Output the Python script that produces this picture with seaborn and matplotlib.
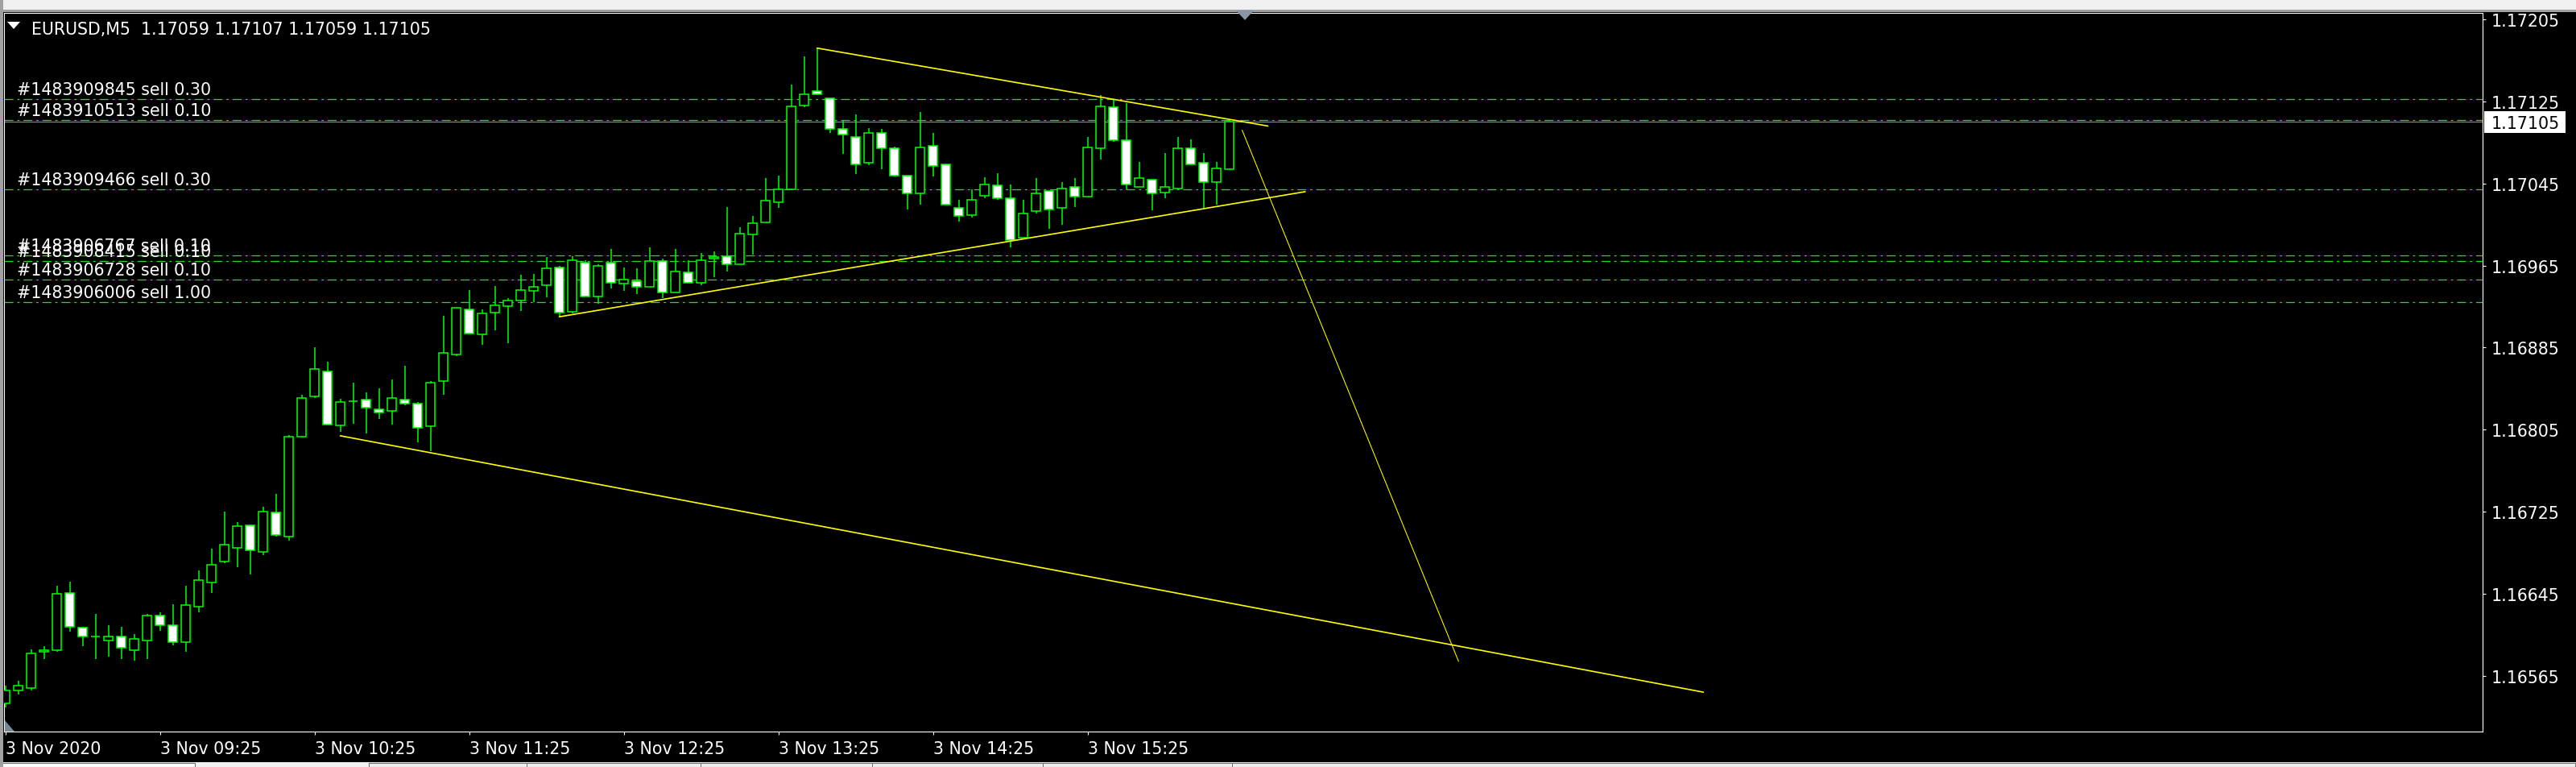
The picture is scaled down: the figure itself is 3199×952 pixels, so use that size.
import numpy as np
import pandas as pd
import matplotlib
matplotlib.use("Agg")
import matplotlib.pyplot as plt
import matplotlib.transforms as mtransforms
from matplotlib.patches import Rectangle, Polygon
import seaborn as sns

# ============================================
# DATA
# ============================================

SYMBOL = "EURUSD,M5"

bar_open = [
    1.16538, 1.16551, 1.16553, 1.16588, 1.16590, 1.16646, 1.16612, 1.16603, 1.16599, 1.16603,
    1.16590, 1.16599, 1.16624, 1.16614, 1.16598, 1.16632, 1.16656, 1.16676, 1.16690, 1.16712,
    1.16686, 1.16724, 1.16701, 1.16798, 1.16837, 1.16862, 1.16809, 1.16833, 1.16834, 1.16825,
    1.16823, 1.16834, 1.16830, 1.16808, 1.16852, 1.16878, 1.16922, 1.16898, 1.16919, 1.16925,
    1.16931, 1.16940, 1.16946, 1.16963, 1.16920, 1.16968, 1.16935, 1.16968, 1.16947, 1.16950,
    1.16944, 1.16969, 1.16939, 1.16958, 1.16948, 1.16972, 1.16974, 1.16966, 1.16995, 1.17007,
    1.17027, 1.17039, 1.17121, 1.17135, 1.17128, 1.17098, 1.17090, 1.17065, 1.17094, 1.17079,
    1.17053, 1.17035, 1.17082, 1.17064, 1.17021, 1.17014, 1.17033, 1.17043, 1.17031, 1.16992,
    1.17018, 1.17038, 1.17021, 1.17042, 1.17032, 1.17079, 1.17119, 1.17087, 1.17042, 1.17049,
    1.17036, 1.17040, 1.17079, 1.17065, 1.17046, 1.17059,
]
bar_high = [
    1.16555, 1.16560, 1.16591, 1.16594, 1.16653, 1.16657, 1.16613, 1.16625, 1.16614, 1.16613,
    1.16606, 1.16625, 1.16627, 1.16635, 1.16653, 1.16668, 1.16689, 1.16725, 1.16715, 1.16712,
    1.16730, 1.16742, 1.16800, 1.16839, 1.16885, 1.16871, 1.16835, 1.16851, 1.16841, 1.16845,
    1.16854, 1.16867, 1.16832, 1.16852, 1.16916, 1.16924, 1.16941, 1.16922, 1.16945, 1.16933,
    1.16956, 1.16957, 1.16973, 1.16965, 1.16974, 1.16970, 1.16966, 1.16981, 1.16963, 1.16962,
    1.16983, 1.16972, 1.16981, 1.16970, 1.16977, 1.16979, 1.17022, 1.17002, 1.17013, 1.17050,
    1.17053, 1.17141, 1.17169, 1.17177, 1.17128, 1.17107, 1.17112, 1.17099, 1.17098, 1.17081,
    1.17053, 1.17115, 1.17094, 1.17064, 1.17029, 1.17039, 1.17051, 1.17055, 1.17044, 1.17029,
    1.17050, 1.17038, 1.17046, 1.17050, 1.17090, 1.17131, 1.17127, 1.17123, 1.17066, 1.17049,
    1.17075, 1.17090, 1.17088, 1.17075, 1.17066, 1.17107,
]
bar_low = [
    1.16534, 1.16547, 1.16551, 1.16581, 1.16588, 1.16608, 1.16594, 1.16581, 1.16584, 1.16581,
    1.16580, 1.16581, 1.16609, 1.16595, 1.16588, 1.16627, 1.16646, 1.16675, 1.16671, 1.16664,
    1.16683, 1.16701, 1.16697, 1.16798, 1.16836, 1.16810, 1.16803, 1.16811, 1.16801, 1.16815,
    1.16810, 1.16829, 1.16793, 1.16784, 1.16839, 1.16877, 1.16899, 1.16888, 1.16902, 1.16889,
    1.16921, 1.16929, 1.16934, 1.16915, 1.16918, 1.16935, 1.16928, 1.16943, 1.16940, 1.16937,
    1.16944, 1.16933, 1.16939, 1.16948, 1.16946, 1.16954, 1.16959, 1.16966, 1.16976, 1.17007,
    1.17021, 1.17039, 1.17119, 1.17131, 1.17094, 1.17074, 1.17054, 1.17063, 1.17059, 1.17052,
    1.17020, 1.17024, 1.17052, 1.17024, 1.17008, 1.17012, 1.17031, 1.17029, 1.16983, 1.16992,
    1.17016, 1.17001, 1.17005, 1.17022, 1.17032, 1.17068, 1.17086, 1.17039, 1.17042, 1.17019,
    1.17031, 1.17039, 1.17064, 1.17021, 1.17024, 1.17059,
]
bar_close = [
    1.16551, 1.16555, 1.16587, 1.16590, 1.16645, 1.16613, 1.16603, 1.16603, 1.16603, 1.16592,
    1.16601, 1.16624, 1.16614, 1.16598, 1.16634, 1.16658, 1.16673, 1.16693, 1.16711, 1.16687,
    1.16725, 1.16702, 1.16798, 1.16836, 1.16864, 1.16810, 1.16832, 1.16833, 1.16826, 1.16822,
    1.16836, 1.16830, 1.16807, 1.16851, 1.16880, 1.16924, 1.16899, 1.16918, 1.16926, 1.16931,
    1.16941, 1.16944, 1.16962, 1.16919, 1.16970, 1.16935, 1.16965, 1.16948, 1.16951, 1.16944,
    1.16969, 1.16939, 1.16959, 1.16948, 1.16970, 1.16973, 1.16966, 1.16996, 1.17006, 1.17028,
    1.17039, 1.17120, 1.17132, 1.17132, 1.17098, 1.17093, 1.17064, 1.17094, 1.17079, 1.17053,
    1.17035, 1.17080, 1.17062, 1.17024, 1.17013, 1.17029, 1.17044, 1.17031, 1.16990, 1.17016,
    1.17035, 1.17020, 1.17040, 1.17032, 1.17080, 1.17120, 1.17087, 1.17044, 1.17050, 1.17035,
    1.17042, 1.17079, 1.17064, 1.17046, 1.17060, 1.17105,
]

time_labels = ["3 Nov 2020", "3 Nov 09:25", "3 Nov 10:25", "3 Nov 11:25",
               "3 Nov 12:25", "3 Nov 13:25", "3 Nov 14:25", "3 Nov 15:25"]
time_label_bars = [0, 12, 24, 36, 48, 60, 72, 84]

price_ticks = [1.16565, 1.16645, 1.16725, 1.16805, 1.16885,
               1.16965, 1.17045, 1.17125, 1.17205]

order_ids = ["1483909845", "1483910513", "1483909466", "1483906767",
             "1483908415", "1483906728", "1483906006"]
order_lots = [0.30, 0.10, 0.30, 0.10, 0.10, 0.10, 1.00]
order_prices = [1.17127, 1.17107, 1.17039, 1.16975, 1.16969, 1.16951, 1.16929]

bid_price = 1.17105

# trendlines: start / end as (bar index, price)
trend_x0 = [63.0, 43.0, 26.0, 96.0]
trend_p0 = [1.17177, 1.16915, 1.16799, 1.17097]
trend_x1 = [98.0, 100.9, 131.8, 112.8]
trend_p1 = [1.17101, 1.17037, 1.16549, 1.16579]
trend_lw = [1.2, 1.2, 1.2, 0.75]

# ============================================
# STYLE
# ============================================

LIME = "#00ff00"
ORDER_GREEN = "#22dd22"
YELLOW = "#ffff00"
SLATE = "#778899"
FS = 14.8

sns.set_theme(style="dark", rc={
    "axes.facecolor": "black",
    "figure.facecolor": "black",
    "axes.edgecolor": "white",
    "axes.linewidth": 0.8,
    "text.color": "white",
    "xtick.color": "white",
    "ytick.color": "white",
    "lines.scale_dashes": False,
})
plt.rcParams["font.family"] = ["DejaVu Sans"]

W, H = 3199, 953
fig = plt.figure(figsize=(W / 100, H / 100), dpi=100)
fig.patch.set_facecolor("black")

# plot frame in pixels: x 5..3083, y 17..909
ax = fig.add_axes([5 / W, (H - 909) / H, 3078 / W, 892 / H])
ax.set_facecolor("black")
ax.set_xlim(-0.094, 192.28)
ax.set_ylim(1.165106, 1.172113)

df = pd.DataFrame({"open": bar_open, "high": bar_high,
                   "low": bar_low, "close": bar_close})
df["bar"] = np.arange(len(df))
bull = df["close"] >= df["open"]

# ============================================
# ORDER LINES + LABELS
# ============================================

for oid, lot, price in zip(order_ids, order_lots, order_prices):
    ax.axhline(price, color=ORDER_GREEN, lw=0.9,
               dashes=(8.0, 3.5, 2.0, 3.5), zorder=2)
    ax.annotate(f"#{oid} sell {lot:.2f}", xy=(0, price),
                xycoords=("axes fraction", "data"),
                xytext=(11.8, 4.3), textcoords="offset points",
                va="baseline", ha="left", fontsize=FS, color="white", zorder=6)

ax.axhline(bid_price, color=SLATE, lw=0.9, zorder=2)

# ============================================
# CANDLES
# ============================================

ax.vlines(df["bar"], df["low"], df["high"], color=LIME, lw=1.1, zorder=3)
body_lo = np.minimum(df["open"], df["close"])
body_h = (df["close"] - df["open"]).abs()
ax.bar(df["bar"], body_h, bottom=body_lo, width=0.64,
       color=np.where(bull, "black", "white"),
       edgecolor=LIME, linewidth=1.1, zorder=4)

# ============================================
# TRENDLINES
# ============================================

for x0, p0, x1, p1, lw in zip(trend_x0, trend_p0, trend_x1, trend_p1, trend_lw):
    sns.lineplot(x=[x0, x1], y=[p0, p1], ax=ax, color=YELLOW, lw=lw,
                 estimator=None, sort=False, zorder=5)

# ============================================
# AXES
# ============================================

ax.set_xticks(time_label_bars)
ax.set_xticklabels(time_labels, ha="left")
ax.set_yticks(price_ticks)
ax.set_yticklabels([f"{p:.5f}" for p in price_ticks])
ax.tick_params(axis="x", bottom=True, length=2.9, width=0.8, pad=5.2,
               labelsize=FS, colors="white")
ax.tick_params(axis="y", left=False, labelleft=False, right=True,
               labelright=True, length=2.9, width=0.8, pad=5.0,
               labelsize=FS, colors="white")
ax.set_xlabel("")
ax.set_ylabel("")
for sp in ax.spines.values():
    sp.set_color("white")
    sp.set_linewidth(0.8)

# current bid box on the price scale
blend = mtransforms.blended_transform_factory(ax.transAxes, ax.transData)
box_h = 27.3 / 127300
ax.add_patch(Rectangle((1 + 2 / 3078, bid_price - box_h / 2), 101 / 3078, box_h,
                       transform=blend, facecolor="white", edgecolor="none",
                       clip_on=False, zorder=7))
ax.text(1 + 11 / 3078, bid_price, f"{bid_price:.5f}", transform=blend,
        color="black", fontsize=FS, va="center_baseline", ha="left",
        clip_on=False, zorder=8)

# shift marker, bottom left corner
ax.add_patch(Polygon([(0.0003, 0), (0.0003, 14 / 892), (13 / 3078, 0)],
                     closed=True, transform=ax.transAxes, facecolor=SLATE,
                     edgecolor="none", zorder=6))

# header
last = df.iloc[-1]
fig.text(39 / W, 1 - 42.7 / H,
         f"{SYMBOL}  {last['open']:.5f} {last['high']:.5f} "
         f"{last['low']:.5f} {last['close']:.5f}",
         color="white", fontsize=FS, va="baseline", ha="left")
fig.patches.append(Polygon([(9 / W, 1 - 28 / H), (25 / W, 1 - 28 / H), (17 / W, 1 - 37 / H)],
                           closed=True, transform=fig.transFigure,
                           facecolor="white", edgecolor="none"))

# window chrome: toolbar strip on top, tab strip at the bottom, left frame
fig.patches.append(Rectangle((0, 1 - 13 / H), 1, 13 / H, transform=fig.transFigure,
                             facecolor="#f0f0f0", edgecolor="none"))
fig.patches.append(Rectangle((0, 1 - 16 / H), 1, 3 / H, transform=fig.transFigure,
                             facecolor="#a0a0a0", edgecolor="none"))
# chart shift marker in the top strip
fig.patches.append(Polygon([(1535 / W, 1 - 14 / H), (1557 / W, 1 - 14 / H),
                            (1546 / W, 1 - 26 / H)],
                           closed=True, transform=fig.transFigure,
                           facecolor="#8a95a5", edgecolor="none"))
fig.patches.append(Rectangle((0, 0), 1, 6 / H, transform=fig.transFigure,
                             facecolor="#f0f0f0", edgecolor="none"))
# tab outlines in the bottom strip
fig.patches.append(Rectangle((1 / W, 0), 241 / W, 5.5 / H, transform=fig.transFigure,
                             facecolor="white", edgecolor="#707070", linewidth=0.8))
fig.patches.append(Rectangle((458 / W, 0), 2740 / W, 5.5 / H, transform=fig.transFigure,
                             facecolor="none", edgecolor="#707070", linewidth=0.8))
for tab_x in [654, 870, 1083, 1295, 1530]:
    fig.patches.append(Rectangle((tab_x / W, 0), 1 / W, 5.5 / H, transform=fig.transFigure,
                                 facecolor="#707070", edgecolor="none"))
fig.patches.append(Rectangle((0, 0), 4 / W, 1, transform=fig.transFigure,
                             facecolor="#a0a0a0", edgecolor="none"))

fig.savefig("out.png", dpi=100, facecolor=fig.get_facecolor())
